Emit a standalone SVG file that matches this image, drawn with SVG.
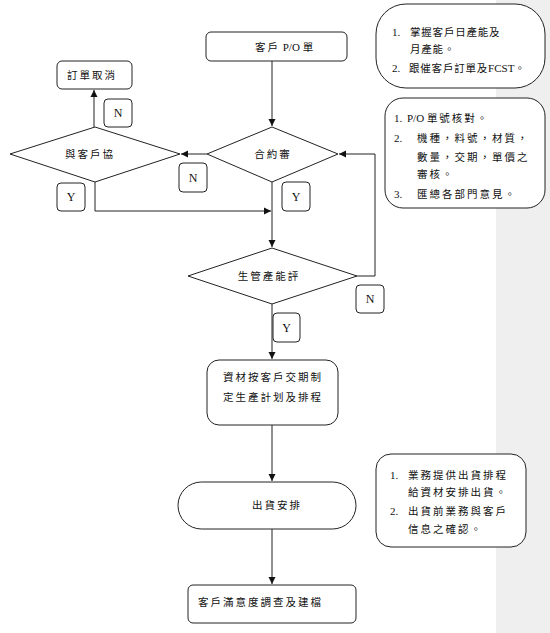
<svg xmlns="http://www.w3.org/2000/svg" width="550" height="633" viewBox="0 0 550 633">
<style>
.box{fill:#fff;stroke:#222;stroke-width:1}
.t{font-family:"Liberation Serif","Noto Sans CJK TC",serif;font-size:10.5px;letter-spacing:2px;fill:#111;dominant-baseline:central}
.m{text-anchor:middle}
.n1{letter-spacing:0.8px}
.lat{letter-spacing:0;font-size:11px}
.lb{font-family:"Liberation Serif",serif;font-size:12px;fill:#111;text-anchor:middle;dominant-baseline:central}
.c{fill:none;stroke:#222;stroke-width:1}
</style>
<defs>
<marker id="ah" markerUnits="userSpaceOnUse" markerWidth="8" markerHeight="8" refX="7" refY="4" orient="auto">
<path d="M0,0.5 L7,4 L0,7.5 Z" fill="#111"/>
</marker>
</defs>
<rect x="496" y="0" width="54" height="633" fill="#efefef"/>

<g id="connectors">
<path class="c" d="M272,61 V126" marker-end="url(#ah)"/>
<path class="c" d="M207,154 H181" marker-end="url(#ah)"/>
<path class="c" d="M94,127 V90" marker-end="url(#ah)"/>
<path class="c" d="M95,182 V211 H271" marker-end="url(#ah)"/>
<path class="c" d="M272,182 V247" marker-end="url(#ah)"/>
<path class="c" d="M357,276 H375 V154 H339" marker-end="url(#ah)"/>
<path class="c" d="M272,304 V359" marker-end="url(#ah)"/>
<path class="c" d="M272,425 V481" marker-end="url(#ah)"/>
<path class="c" d="M272,529 V584" marker-end="url(#ah)"/>
</g>

<g id="po">
<rect class="box" x="206" y="32" width="141" height="29" rx="5"/>
<text class="t" x="255" y="47">客戶<tspan class="lat"> P/O </tspan>單</text>
</g>
<g id="cancel">
<rect class="box" x="57" y="61" width="75" height="28" rx="5"/>
<text class="t m" x="92" y="75">訂單取消</text>
</g>
<g id="negotiate">
<polygon class="box" points="10,154 95,127 180,154 95,182"/>
<text class="t m" x="90" y="154">與客戶協</text>
</g>
<g id="contract">
<polygon class="box" points="207,154 272,127 338,154 272,182"/>
<text class="t m" x="273" y="154">合約審</text>
</g>
<g id="capacity">
<polygon class="box" points="188,276 272,248 357,276 272,304"/>
<text class="t m" x="269" y="276">生管產能評</text>
</g>
<g id="plan">
<rect class="box" x="207" y="360" width="131" height="65" rx="12"/>
<text class="t m" x="273" y="377">資材按客戶交期制</text>
<text class="t m" x="273" y="397">定生產計划及排程</text>
</g>
<g id="ship">
<rect class="box" x="178" y="482" width="178" height="47" rx="23.5"/>
<text class="t m" x="277" y="505">出貨安排</text>
</g>
<g id="survey">
<rect class="box" x="188" y="585" width="168" height="38" rx="5"/>
<text class="t" x="198" y="602">客戶滿意度調查及建檔</text>
</g>

<g id="label-n1"><rect class="box" x="104" y="99" width="28" height="28" rx="4"/><text class="lb" x="118" y="113">N</text></g>
<g id="label-n2"><rect class="box" x="179" y="163" width="28" height="29" rx="4"/><text class="lb" x="193" y="177.5">N</text></g>
<g id="label-y1"><rect class="box" x="57" y="183" width="28" height="28" rx="4"/><text class="lb" x="71" y="197">Y</text></g>
<g id="label-y2"><rect class="box" x="282" y="182" width="28" height="29" rx="4"/><text class="lb" x="296" y="196.5">Y</text></g>
<g id="label-n3"><rect class="box" x="356" y="285" width="28" height="28" rx="4"/><text class="lb" x="370" y="299">N</text></g>
<g id="label-y3"><rect class="box" x="273" y="313" width="27" height="29" rx="4"/><text class="lb" x="286.5" y="327.5">Y</text></g>

<g id="note1">
<rect class="box" x="376" y="4" width="169" height="84" rx="30" ry="30"/>
<text class="t lat" x="392" y="32">1.</text>
<text class="t n1" x="410" y="32">掌握客戶日產能及</text>
<text class="t n1" x="410" y="49">月產能。</text>
<text class="t lat" x="392" y="68">2.</text>
<text class="t n1" x="409" y="68">跟催客戶訂單及<tspan class="lat">FCST</tspan>。</text>
</g>
<g id="note2">
<rect class="box" x="385" y="98" width="160" height="110" rx="18"/>
<text class="t lat" x="394" y="118">1.</text>
<text class="t" x="407" y="118"><tspan class="lat">P/O </tspan>單號核對。</text>
<text class="t lat" x="394" y="138">2.</text>
<text class="t" x="417" y="138">機種，料號，材質，</text>
<text class="t" x="417" y="157">數量，交期，單價之</text>
<text class="t" x="417" y="174">審核。</text>
<text class="t lat" x="394" y="194">3.</text>
<text class="t" x="417" y="194">匯總各部門意見。</text>
</g>
<g id="note3">
<rect class="box" x="376" y="454" width="150" height="93" rx="15"/>
<text class="t lat" x="390" y="475">1.</text>
<text class="t" x="408" y="475">業務提供出貨排程</text>
<text class="t" x="408" y="492">給資材安排出貨。</text>
<text class="t lat" x="390" y="511">2.</text>
<text class="t" x="408" y="511">出貨前業務與客戶</text>
<text class="t" x="408" y="529">信息之確認。</text>
</g>
</svg>
